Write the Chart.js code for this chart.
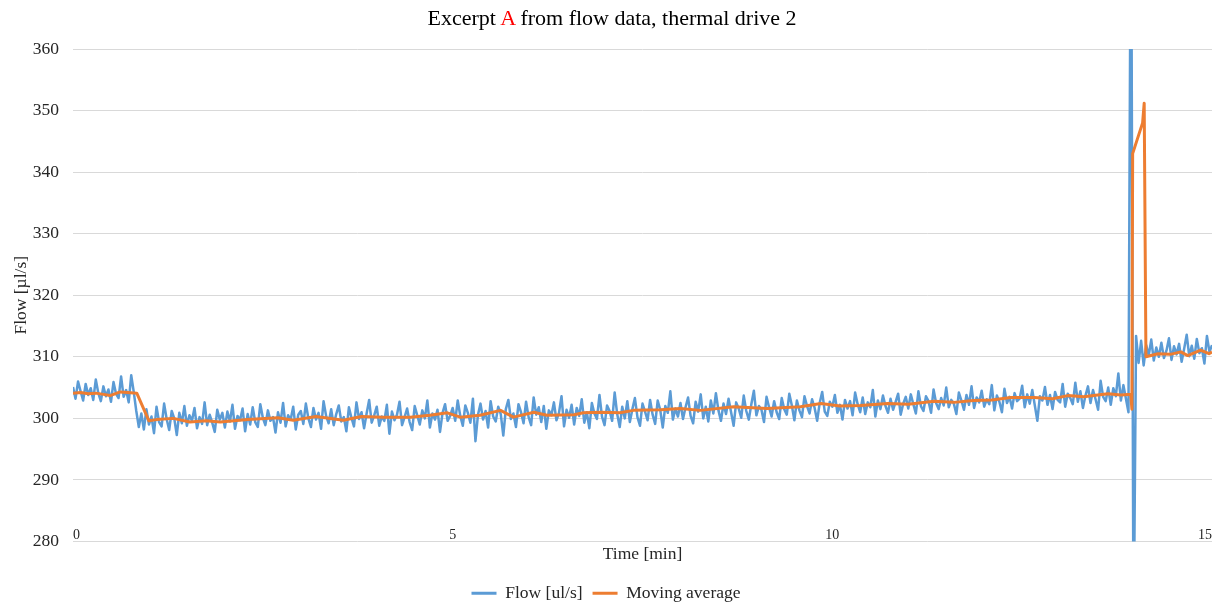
<!DOCTYPE html>
<html>
<head>
<meta charset="utf-8">
<script src="https://cdn.jsdelivr.net/npm/chart.js@4.4.1/dist/chart.umd.min.js"></script>
<style>
  body { margin: 0; background: #fff; overflow: hidden; }
  #wrap { position: relative; width: 1224px; height: 604px; }
  #title { position: absolute; top: 5px; left: 0; width: 1224px; text-align: center;
           font: 22px 'Liberation Serif', 'Times New Roman', serif; color: #000; }
  #title span { color: #ff0000; }
</style>
</head>
<body>
<div id="wrap">
  <canvas id="flowChart" width="1224" height="604"></canvas>
  <div id="title">Excerpt <span>A</span> from flow data, thermal drive 2</div>
</div>
<script>
// flow samples, one every 2 s (1/30 min) starting at t = 0
const flowStepMin = 1 / 30;
const flowValues = [
  305.1, 303.2, 306.0, 304.4, 302.9, 305.6, 303.8, 304.9, 303.0, 306.3,
  304.1, 302.8, 305.2, 303.6, 304.7, 302.7, 305.9, 304.0, 303.3, 306.8,
  303.5, 304.6, 302.6, 307.0, 304.3,
  301.2, 298.6,
  300.8, 298.2, 301.5, 299.0, 300.3, 297.6, 301.9, 299.4, 298.7, 302.4,
  299.9, 298.1, 301.2, 300.0, 297.3, 300.9, 299.2, 302.0, 298.8, 300.5,
  299.6, 301.7, 298.4, 300.2, 299.1, 302.6, 298.9, 300.6, 299.3, 297.8,
  301.4, 299.8, 300.9, 298.5, 301.1, 299.5, 302.2, 298.3, 300.4, 299.7,
  301.6, 297.9, 300.7, 299.0, 301.8, 299.4, 298.6, 302.3, 300.1, 298.9,
  301.3, 299.6, 300.2, 297.7, 301.0, 299.3, 302.5, 298.7, 300.5, 299.8,
  301.9, 298.2, 300.6,
  301.2, 299.1, 302.4, 300.0, 298.6, 301.7, 299.8, 300.9, 298.3, 302.8,
  300.4, 299.2, 301.5, 298.9, 300.7, 302.1, 299.5, 300.2, 297.9, 301.8,
  300.1, 298.7, 302.6, 299.9, 301.0, 298.4, 300.8, 303.0, 299.3, 300.5,
  301.9, 298.8, 300.3, 299.6, 302.2, 297.5, 301.1, 299.7, 300.6, 302.7,
  298.9, 300.2, 301.6, 299.4, 298.1, 302.0, 300.5, 299.0, 301.3, 300.0,
  302.9, 298.5, 300.8, 299.8, 301.4, 297.8, 300.9, 302.3, 299.6, 300.4,
  301.7, 299.6, 302.9, 300.4, 298.8, 302.1, 300.9, 299.3, 303.2, 296.3,
  300.6, 302.4, 299.8, 301.2, 298.5, 302.8, 300.3, 299.5, 301.9, 300.7,
  297.2, 301.5, 303.0, 299.9, 300.8, 298.6, 302.3, 301.0, 299.2, 302.7,
  300.2, 298.9, 303.4, 300.6, 301.8, 299.4, 302.0, 298.3, 301.3, 300.5,
  302.6, 299.7, 300.9, 303.6, 298.7, 301.4, 300.1, 302.2, 299.0, 301.7,
  300.4, 303.1, 299.3, 301.0, 298.4, 302.5, 300.8, 299.9, 303.8, 300.3,
  298.9, 302.1, 301.2, 299.6, 304.2, 300.7, 298.6, 301.9, 300.0, 302.8,
  299.4, 301.5, 303.3, 300.2, 298.8, 302.4, 301.1, 299.7, 303.0, 300.6,
  299.1, 302.9, 301.4, 298.5, 302.0, 300.9, 304.4, 299.8, 301.6, 300.3,
  302.5, 299.9, 301.8, 303.4, 300.4, 299.2, 302.7, 301.1, 303.9, 300.0,
  301.9, 299.5, 302.9, 300.8, 304.1, 301.3, 299.6, 302.4, 300.7, 303.2,
  301.0, 298.8, 302.6, 301.6, 300.1, 303.7, 301.2, 299.8, 302.3, 304.5,
  300.5, 302.0, 301.4, 299.4, 303.5, 301.8, 300.3, 302.8, 301.0, 299.9,
  303.3, 301.5, 300.6, 304.0, 302.1, 299.7, 302.9, 301.3, 300.2, 303.6,
  302.0, 300.8, 303.1, 301.7, 299.6, 302.5, 304.3, 301.1, 300.4, 302.7,
  301.9, 303.8, 300.9, 302.2, 299.8, 303.0, 301.6, 302.8, 300.5, 304.2,
  302.3, 301.0, 303.4, 300.7, 302.6, 301.8, 304.6, 300.3, 302.9, 301.5,
  303.7, 302.0, 300.9, 303.2, 301.4, 302.7, 304.0, 300.6, 302.4, 303.5,
  301.6, 303.9, 302.3, 300.8, 304.4, 302.0, 301.2, 303.6, 302.8, 300.9,
  304.7, 302.5, 301.5, 303.3, 302.1, 305.0, 301.8, 303.0, 302.4, 300.7,
  304.2, 302.9, 301.4, 303.8, 302.2, 305.2, 301.7, 303.4, 302.6, 304.5,
  301.9, 303.1, 302.3, 305.4, 301.3, 303.7, 302.7, 301.0, 304.8, 302.5,
  303.5, 301.6, 304.1, 302.8, 303.2, 305.3, 301.8, 303.9, 302.4, 304.6,
  302.1, 299.6, 303.6, 302.9, 305.1, 302.2, 303.8, 301.5, 304.3, 303.0,
  302.6, 305.6, 301.9, 304.0, 303.3, 302.3, 305.8, 302.7, 304.4, 301.7,
  303.7, 305.2, 302.5, 304.6, 303.1, 301.4, 306.1, 303.5, 302.8, 305.0,
  302.2, 304.9, 303.6, 307.3, 302.9, 305.4, 303.2, 301.0,
  394.0, 262.0,
  313.4, 309.0, 312.6, 308.6, 311.9, 310.2, 312.8, 309.4, 311.5, 310.0,
  312.3, 309.8, 311.0, 313.0, 309.5, 311.7, 310.4, 312.1, 309.2, 311.3,
  313.6, 310.1, 311.8, 309.7, 312.9, 310.6, 311.4, 308.9, 313.4, 310.8,
  311.9
];

// moving average
const avgTimes = [
  0, 0.1, 0.2, 0.3, 0.4, 0.49, 0.62, 0.72, 0.84, 1.0,
  1.1, 1.32, 1.54, 1.75, 1.94, 2.3, 2.7, 2.9, 3.2, 3.56,
  3.8, 4.09, 4.44, 4.7, 4.93, 5.1, 5.36, 5.63, 5.8, 6.07,
  6.24, 6.6, 6.72, 6.95, 7.2, 7.38, 7.74, 8.0, 8.26, 8.7,
  9.14, 9.58, 9.85, 10.1, 10.37, 10.73, 11.0, 11.34, 11.6, 11.86,
  12.1, 12.35, 12.66, 12.9, 13.1, 13.31, 13.63, 13.8, 13.93, 13.945,
  13.955, 14.086, 14.107, 14.13, 14.29, 14.45, 14.59, 14.68, 14.85, 14.96,
  15.0
];
const avgValues = [
  304.1, 304.2, 304.0, 304.1, 303.9, 303.7, 304.3, 304.2, 304.1, 299.6,
  299.8, 300.0, 299.4, 299.6, 299.4, 299.8, 300.1, 299.7, 300.3, 299.7,
  300.3, 300.2, 300.2, 300.5, 300.9, 300.2, 300.5, 301.3, 300.2, 301.0,
  300.5, 300.6, 300.9, 301.0, 300.9, 301.3, 301.4, 301.6, 301.3, 301.9,
  301.6, 301.9, 302.4, 302.0, 302.1, 302.4, 302.3, 302.8, 302.6, 302.9,
  303.0, 303.4, 303.4, 303.2, 303.7, 303.5, 304.0, 303.8, 303.9, 301.5,
  343.0, 348.0, 351.2, 310.0, 310.5, 310.4, 310.8, 310.2, 311.1, 310.5,
  310.8
];

const xMin = 0, xMax = 15, xStep = 5;
const yMin = 280, yMax = 360, yStep = 10;

const serif = "'Liberation Serif', 'Times New Roman', serif";
const textColor = '#262626';

const flowPoints = flowValues.map((v, i) => ({ x: i * flowStepMin, y: v }));
const avgPoints = avgTimes.map((t, i) => ({ x: t, y: avgValues[i] }));

new Chart(document.getElementById('flowChart'), {
  type: 'line',
  data: {
    datasets: [
      {
        label: 'Flow [ul/s]',
        data: flowPoints,
        borderColor: '#5B9BD5',
        backgroundColor: '#5B9BD5',
        borderWidth: 2.5,
        borderJoinStyle: 'round',
        pointRadius: 0,
        tension: 0,
        order: 2
      },
      {
        label: 'Moving average',
        data: avgPoints,
        borderColor: '#ED7D31',
        backgroundColor: '#ED7D31',
        borderWidth: 3,
        borderJoinStyle: 'round',
        pointRadius: 0,
        tension: 0,
        order: 1
      }
    ]
  },
  options: {
    responsive: false,
    animation: false,
    layout: { padding: { top: 49, right: 12, bottom: -8, left: 0 } },
    plugins: {
      title: { display: false },
      tooltip: { enabled: false },
      legend: {
        position: 'bottom',
        labels: {
          font: { family: serif, size: 17.5 },
          color: textColor,
          boxWidth: 25,
          boxHeight: 3,
          padding: 10,
          sort: (a, b) => a.datasetIndex - b.datasetIndex,
          generateLabels: chart =>
            Chart.defaults.plugins.legend.labels.generateLabels(chart)
              .map(l => ({ ...l, lineWidth: 0 }))
        }
      }
    },
    scales: {
      x: {
        type: 'linear',
        min: xMin,
        max: xMax,
        grid: { display: false, drawTicks: false },
        border: { display: false },
        ticks: {
          stepSize: xStep,
          align: 'inner',
          mirror: true,
          padding: -2,
          maxRotation: 0,
          font: { family: serif, size: 14 },
          color: textColor
        },
        title: {
          display: true,
          text: 'Time [min]',
          font: { family: serif, size: 17.5 },
          color: textColor,
          padding: { top: 0, bottom: 10 }
        },
        afterFit: scale => { scale.height = 33; }
      },
      y: {
        min: yMin,
        max: yMax,
        grid: { color: '#d9d9d9', drawTicks: false },
        border: { display: false },
        ticks: {
          stepSize: yStep,
          padding: 14,
          font: { family: serif, size: 17.5 },
          color: textColor
        },
        title: {
          display: true,
          text: 'Flow [µl/s]',
          font: { family: serif, size: 17.5 },
          color: textColor,
          padding: { top: 11, bottom: 0 }
        },
        afterFit: scale => { scale.width = 73; }
      }
    }
  }
});
</script>
</body>
</html>
